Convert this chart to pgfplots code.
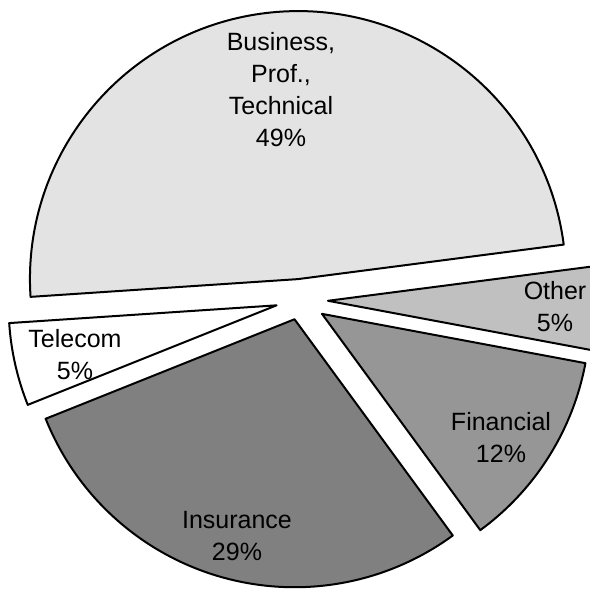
\documentclass[border=0pt]{standalone}
\usepackage{pgfplots}
\pgfplotsset{compat=1.18}
\usepackage{fontspec}
\setmainfont{Liberation Sans}
\definecolor{cBus}{HTML}{E3E3E3}
\definecolor{cTel}{HTML}{FFFFFF}
\definecolor{cIns}{HTML}{808080}
\definecolor{cFin}{HTML}{969696}
\definecolor{cOth}{HTML}{C0C0C0}
% pie geometry in pixel units of the axis
\newcommand\cx{300}
\newcommand\cy{289}
\newcommand\rad{268}
\xdef\curangle{7.4}
\newcommand\pieslice[3]{% share (percent), fill colour, explode distance
  \pgfmathsetmacro\sa{\curangle}%
  \pgfmathsetmacro\ea{\curangle+3.6*#1}%
  \pgfmathsetmacro\ma{(\sa+\ea)/2}%
  \pgfmathsetmacro\px{\cx+#3*cos(\ma)}%
  \pgfmathsetmacro\py{\cy+#3*sin(\ma)}%
  \pgfmathsetmacro\qx{\px+\rad*cos(\sa)}%
  \pgfmathsetmacro\qy{\py+\rad*sin(\sa)}%
  \pgfmathsetmacro\rr{\rad*0.4}%
  \edef\temp{\noexpand\filldraw[fill=#2, draw=black, line width=0.8pt, line join=round]
    (axis cs:\px,\py) -- (axis cs:\qx,\qy) arc[start angle=\sa, end angle=\ea, radius=\rr pt] -- cycle;}%
  \temp
  \xdef\curangle{\ea}%
}
\begin{document}
\begin{tikzpicture}
\begin{axis}[
  x=0.4pt, y=0.4pt,
  xmin=0, xmax=590, ymin=0, ymax=589,
  axis lines=none, ticks=none,
  clip=true,
]
\path (axis cs:0,0) rectangle (axis cs:590,589);
\pieslice{49}{cBus}{21}
\pieslice{5}{cTel}{24}
\pieslice{29}{cIns}{20}
\pieslice{12}{cFin}{26}
\pieslice{5}{cOth}{28}
\begin{scope}[every node/.style={align=center, font=\fontsize{10}{12.8}\selectfont, inner sep=0pt}]
\node at (axis cs:281,499) {Business,\\Prof.,\\Technical\\49\%};
\node at (axis cs:75,234) {Telecom\\5\%};
\node at (axis cs:237,52.5) {Insurance\\29\%};
\node at (axis cs:501,152) {Financial\\12\%};
\node at (axis cs:555,282) {Other\\5\%};
\end{scope}
\end{axis}
\end{tikzpicture}
\end{document}
